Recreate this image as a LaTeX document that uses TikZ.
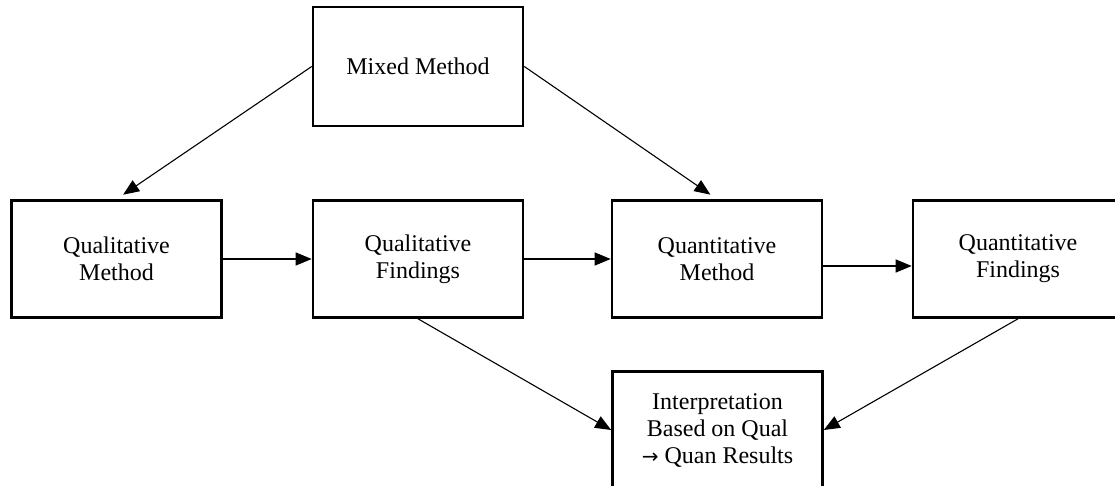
\documentclass[tikz,border=0pt]{standalone}
\usepackage{fontspec}
\setmainfont{Liberation Serif}
\newfontfamily\arrowfont{DejaVu Sans}
\usepackage{tikz}
\usetikzlibrary{arrows.meta}
\tikzstyle{flow}=[x=1pt,y=-1pt,font=\fontsize{24}{27}\selectfont]
\tikzstyle{box}=[rectangle, draw, line width=2.6pt, fill=white, align=center, minimum width=210pt, minimum height=117pt, inner sep=0pt]
\tikzstyle{edge}=[line width=1.1pt, -{Triangle[length=16pt,width=13pt]}]

\begin{document}
\begin{tikzpicture}[flow]
				\useasboundingbox (0,0) rectangle (1115,486);
				\clip (0,0) rectangle (1115,486);
				
				%The top box
				\draw (418,66.5) node[box, minimum height=119pt] (mixed) {Mixed Method};
				
				%The middle row
				\draw (116.5,259) node[box] (qlm) {Qualitative\\Method};
				\draw (418,259) node[box] (qlf) {Qualitative\\Findings};
				\draw (717,259) node[box] (qnm) {Quantitative\\Method};
				\draw (1018,259) node[box] (qnf) {Quantitative\\Findings};
				
				%The result
				\draw (717.5,430) node[box] (interp) {Interpretation\\Based on Qual\\{\arrowfont\fontsize{20}{27}\selectfont →} Quan Results};
				
				\draw[edge, shorten >=8pt] (mixed.west) -- (qlm.north);
				\draw[edge, shorten >=8pt] (mixed.east) -- (qnm.north);
				
				\draw[edge] (qlm.east) -- (qlf.west);
				\draw[edge] (qlf.east) -- (qnm.west);
				\draw[edge] ([yshift=-7pt]qnm.east) -- ([yshift=-7pt]qnf.west);
				
				\draw[edge] (qlf.south) -- (interp.west);
				\draw[edge] (qnf.south) -- (interp.east);
			\end{tikzpicture}
\end{document}
